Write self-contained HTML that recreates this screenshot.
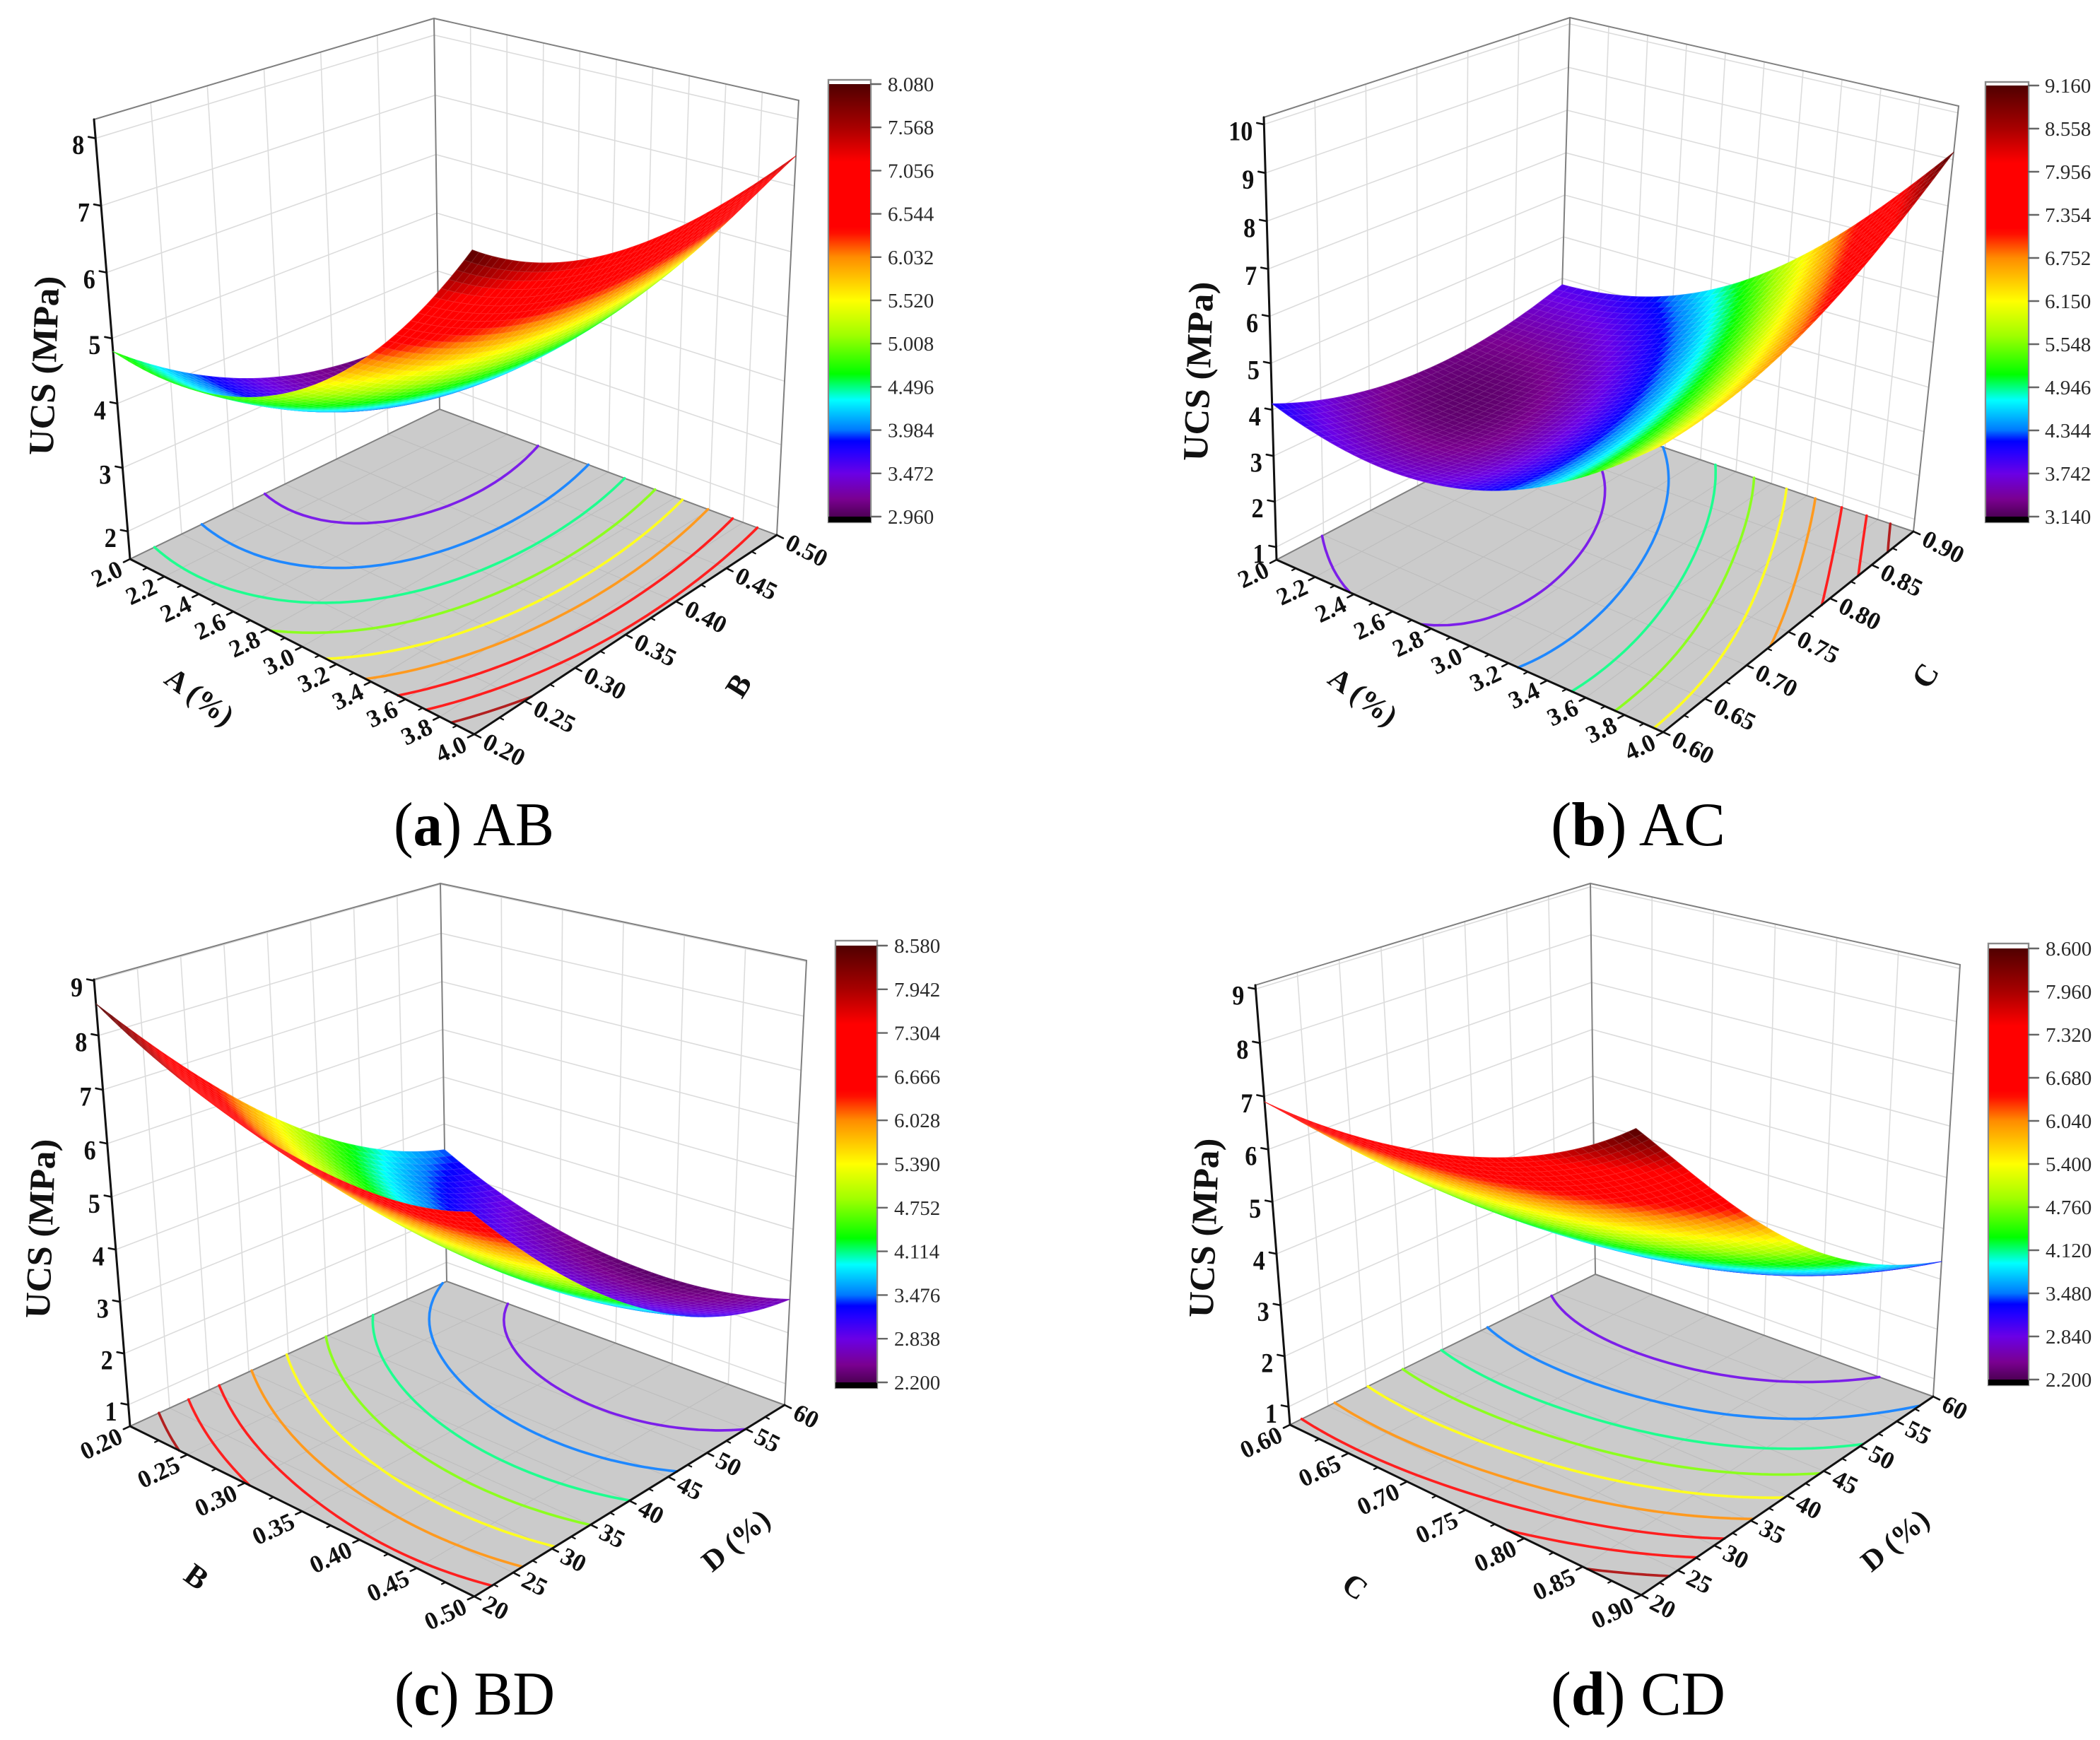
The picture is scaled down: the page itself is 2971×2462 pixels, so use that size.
<!DOCTYPE html>
<html lang="en">
<head>
<meta charset="utf-8">
<title>UCS response surfaces</title>
<style>
html,body{margin:0;padding:0;background:#fff;}
svg{display:block;}
text{font-family:"Liberation Serif",serif;}
</style>
</head>
<body>
<svg id="root" xmlns="http://www.w3.org/2000/svg" width="2971" height="2462" viewBox="0 0 2971 2462">
  <rect width="2971" height="2462" fill="#fff"/>
  <defs id="defs"></defs>
  <g id="panel-a"></g>
  <g id="panel-b"></g>
  <g id="panel-c"></g>
  <g id="panel-d"></g>

  <g font-weight="bold" fill="#111">
    <text transform="translate(79,518) rotate(-88)" text-anchor="middle" font-size="50" textLength="254" lengthAdjust="spacingAndGlyphs">UCS (MPa)</text>
    <text transform="translate(274,997) rotate(36)" text-anchor="middle" font-size="42">A (%)</text>
    <text transform="translate(1045,970) rotate(-58)" text-anchor="middle" dominant-baseline="central" font-size="44">B</text>

    <text transform="translate(1712,526) rotate(-88)" text-anchor="middle" font-size="50" textLength="254" lengthAdjust="spacingAndGlyphs">UCS (MPa)</text>
    <text transform="translate(1920,997) rotate(36)" text-anchor="middle" font-size="42">A (%)</text>
    <text transform="translate(2724,956) rotate(-58)" text-anchor="middle" dominant-baseline="central" font-size="44">C</text>

    <text transform="translate(74,1739) rotate(-88)" text-anchor="middle" font-size="50" textLength="254" lengthAdjust="spacingAndGlyphs">UCS (MPa)</text>
    <text transform="translate(278,2231) rotate(36)" text-anchor="middle" dominant-baseline="central" font-size="44">B</text>
    <text transform="translate(1050,2190) rotate(-40)" text-anchor="middle" font-size="42">D (%)</text>

    <text transform="translate(1720,1738) rotate(-88)" text-anchor="middle" font-size="50" textLength="254" lengthAdjust="spacingAndGlyphs">UCS (MPa)</text>
    <text transform="translate(1917,2245) rotate(36)" text-anchor="middle" dominant-baseline="central" font-size="44">C</text>
    <text transform="translate(2690,2190) rotate(-40)" text-anchor="middle" font-size="42">D (%)</text>
  </g>

  <g fill="#000" font-size="88">
    <text x="557" y="1196" textLength="227" lengthAdjust="spacingAndGlyphs">(<tspan font-weight="bold">a</tspan>) AB</text>
    <text x="2194" y="1196" textLength="247" lengthAdjust="spacingAndGlyphs">(<tspan font-weight="bold">b</tspan>) AC</text>
    <text x="558" y="2426" textLength="227" lengthAdjust="spacingAndGlyphs">(<tspan font-weight="bold">c</tspan>) BD</text>
    <text x="2194" y="2426" textLength="247" lengthAdjust="spacingAndGlyphs">(<tspan font-weight="bold">d</tspan>) CD</text>
  </g>
</svg>

<script>
/* ---------- chart data ---------- */
/* Surface samples: each row is one v-axis value, each column one u-axis value. */
const abSurface = [
  [4.80, 4.74, 5.27, 6.38, 8.08],
  [3.93, 3.96, 4.57, 5.77, 7.45],
  [3.35, 3.46, 4.17, 5.46, 7.18],
  [3.07, 3.27, 4.06, 5.44, 7.20],
  [3.08, 3.37, 4.25, 5.72, 7.45]
];
const acSurface = [
  [4.13, 3.70, 3.96, 4.88, 6.30],
  [3.58, 3.35, 3.80, 4.92, 6.45],
  [3.33, 3.29, 3.95, 5.26, 6.93],
  [3.41, 3.57, 4.42, 5.93, 7.82],
  [3.85, 4.21, 5.25, 6.96, 9.16]
];
const bdSurface = [
  [8.58, 7.57, 7.00, 6.80, 7.05],
  [6.87, 5.92, 5.40, 5.25, 5.45],
  [5.36, 4.47, 3.99, 3.88, 4.12],
  [4.18, 3.34, 2.93, 2.87, 3.15],
  [3.45, 2.67, 2.32, 2.32, 2.65]
];
const cdSurface = [
  [6.90, 6.85, 7.10, 7.65, 8.60],
  [5.43, 5.32, 5.52, 6.01, 6.91],
  [4.10, 3.94, 4.08, 4.51, 5.35],
  [3.13, 2.91, 2.99, 3.37, 4.16],
  [2.55, 2.28, 2.30, 2.63, 3.35]
];

const abTicksU = ["2.0","2.2","2.4","2.6","2.8","3.0","3.2","3.4","3.6","3.8","4.0"];
const abTicksV = ["0.20","0.25","0.30","0.35","0.40","0.45","0.50"];
const abTicksZ = ["2","3","4","5","6","7","8"];
const abColorTicks = ["2.960","3.472","3.984","4.496","5.008","5.520","6.032","6.544","7.056","7.568","8.080"];

const acTicksU = ["2.0","2.2","2.4","2.6","2.8","3.0","3.2","3.4","3.6","3.8","4.0"];
const acTicksV = ["0.60","0.65","0.70","0.75","0.80","0.85","0.90"];
const acTicksZ = ["1","2","3","4","5","6","7","8","9","10"];
const acColorTicks = ["3.140","3.742","4.344","4.946","5.548","6.150","6.752","7.354","7.956","8.558","9.160"];

const bdTicksU = ["0.20","0.25","0.30","0.35","0.40","0.45","0.50"];
const bdTicksV = ["20","25","30","35","40","45","50","55","60"];
const bdTicksZ = ["1","2","3","4","5","6","7","8","9"];
const bdColorTicks = ["2.200","2.838","3.476","4.114","4.752","5.390","6.028","6.666","7.304","7.942","8.580"];

const cdTicksU = ["0.60","0.65","0.70","0.75","0.80","0.85","0.90"];
const cdTicksV = ["20","25","30","35","40","45","50","55","60"];
const cdTicksZ = ["1","2","3","4","5","6","7","8","9"];
const cdColorTicks = ["2.200","2.840","3.480","4.120","4.760","5.400","6.040","6.680","7.320","7.960","8.600"];

const colormapFractions = [0, .04, .1, .15, .175, .2, .27, .3, .33, .42, .5, .6, .655, .67, .82, .9, 1];
const colormapColors = ["#4d0055","#7a0090","#6a00e6","#2400ff","#0000ff","#0078ff","#00ffff","#00ff80","#00ff00","#a0ff00","#ffff00","#ff8c00","#ff1000","#ff0000","#ff0000","#a80000","#500000"];

/* ---------- layout (box geometry only) ---------- */
const layouts = [
  {id:"panel-a", key:"ab", surface:abSurface, ticksU:abTicksU, ticksV:abTicksV, ticksZ:abTicksZ, colorTicks:abColorTicks,
   zBox:[1.561,8.277],
   L:[184,791], F:[671,1039], R:[1099,757], K:[622,579],
   TL:[133,169], TF:[668,332], TR:[1130,142], TK:[614,26],
   bar:{x:1172,w:60,boxTop:113,top:119,bottom:731,boxBottom:739,labelX:1256}},
  {id:"panel-b", key:"ac", surface:acSurface, ticksU:acTicksU, ticksV:acTicksV, ticksZ:acTicksZ, colorTicks:acColorTicks,
   zBox:[0.719,10.145],
   L:[1806,792], F:[2353,1036], R:[2707,752], K:[2205,583],
   TL:[1788,166], TF:[2352,338], TR:[2771,150], TK:[2221,25],
   bar:{x:2809,w:61,boxTop:116,top:121,bottom:731,boxBottom:739,labelX:2893}},
  {id:"panel-c", key:"bd", surface:bdSurface, ticksU:bdTicksU, ticksV:bdTicksV, ticksZ:bdTicksZ, colorTicks:bdColorTicks,
   zBox:[0.58,9.02],
   L:[184,2018], F:[671,2259], R:[1110,1988], K:[632,1813],
   TL:[133,1386], TF:[664,1542], TR:[1141,1359], TK:[623,1250],
   bar:{x:1182,w:59,boxTop:1331,top:1338,bottom:1956,boxBottom:1964,labelX:1265}},
  {id:"panel-d", key:"cd", surface:cdSurface, ticksU:cdTicksU, ticksV:cdTicksV, ticksZ:cdTicksZ, colorTicks:cdColorTicks,
   zBox:[0.64,9.07],
   L:[1825,2016], F:[2322,2257], R:[2735,1976], K:[2257,1803],
   TL:[1776,1394], TF:[2314,1556], TR:[2773,1365], TK:[2250,1250],
   bar:{x:2813,w:57,boxTop:1335,top:1342,bottom:1952,boxBottom:1960,labelX:2894}}
];

const SVGNS = "http://www.w3.org/2000/svg";
const MESH = 48;
const NODES = [0, .25, .5, .75, 1];

function mk(tag, attrs, parent) {
  const el = document.createElementNS(SVGNS, tag);
  for (const k in attrs) el.setAttribute(k, attrs[k]);
  parent.appendChild(el);
  return el;
}
function hexRgb(h) {
  return [parseInt(h.slice(1,3),16), parseInt(h.slice(3,5),16), parseInt(h.slice(5,7),16)];
}
function cmapRgb(t) {
  t = Math.max(0, Math.min(1, t));
  for (let i = 1; i < colormapFractions.length; i++) {
    if (t <= colormapFractions[i]) {
      const a = colormapFractions[i-1], b = colormapFractions[i];
      const f = (t-a)/(b-a), p = hexRgb(colormapColors[i-1]), q = hexRgb(colormapColors[i]);
      return [p[0]+(q[0]-p[0])*f, p[1]+(q[1]-p[1])*f, p[2]+(q[2]-p[2])*f];
    }
  }
  return hexRgb(colormapColors[colormapColors.length-1]);
}
function rgbStr(c, white) {
  const w = white || 0;
  return "rgb(" + c.map(x => Math.round(x+(255-x)*w)).join(",") + ")";
}
function lagrange(x) {
  return NODES.map((n, i) => {
    let r = 1;
    NODES.forEach((m, j) => { if (j !== i) r *= (x-m)/(n-m); });
    return r;
  });
}
function fmt(p) { return p[0].toFixed(1) + "," + p[1].toFixed(1); }
function bilin(a, b, c, d, u, v) {
  return [
    (1-u)*(1-v)*a[0] + u*(1-v)*b[0] + u*v*c[0] + (1-u)*v*d[0],
    (1-u)*(1-v)*a[1] + u*(1-v)*b[1] + u*v*c[1] + (1-u)*v*d[1]
  ];
}

function drawPanel(P) {
  const g = document.getElementById(P.id);
  const floorAt = (u, v) => bilin(P.L, P.F, P.R, P.K, u, v);
  const topAt = (u, v) => bilin(P.TL, P.TF, P.TR, P.TK, u, v);
  const zScale = z => {
    const t = (z - P.zBox[0]) / (P.zBox[1] - P.zBox[0]);
    return 0.96*t / (1 - 0.04*t);
  };
  const project = (u, v, z) => {
    const s = zScale(z), f = floorAt(u, v), c = topAt(u, v);
    return [f[0]+(c[0]-f[0])*s, f[1]+(c[1]-f[1])*s];
  };
  const numsU = P.ticksU.map(Number), numsV = P.ticksV.map(Number), numsZ = P.ticksZ.map(Number);
  const uScale = x => (x-numsU[0]) / (numsU[numsU.length-1]-numsU[0]);
  const vScale = x => (x-numsV[0]) / (numsV[numsV.length-1]-numsV[0]);
  const line = (a, b, stroke, width, parent) =>
    mk("line", {x1:a[0].toFixed(1), y1:a[1].toFixed(1), x2:b[0].toFixed(1), y2:b[1].toFixed(1), stroke:stroke, "stroke-width":width, "stroke-linecap":"round"}, parent);
  const zVals = P.colorTicks.map(Number);
  const cMin = zVals[0], cMax = zVals[zVals.length-1];
  const colorOf = z => cmapRgb((z-cMin)/(cMax-cMin));

  /* walls with grid */
  const walls = mk("g", {}, g);
  
  
  numsZ.forEach(z => {
    const a = line(project(0,0,z), project(0,1,z), "#dcdcdc", 1.6, walls);
    
    
    const b = line(project(0,1,z), project(1,1,z), "#dcdcdc", 1.6, walls);
    
    
  });
  numsV.forEach(x => {
    const v = vScale(x);
    const a = line(floorAt(0,v), topAt(0,v), "#dcdcdc", 1.6, walls);
    
    
  });
  numsU.forEach(x => {
    const u = uScale(x);
    const a = line(floorAt(u,1), topAt(u,1), "#dcdcdc", 1.6, walls);
    
    
  });

  /* floor */
  const floor = mk("polygon", {points:[P.L,P.F,P.R,P.K].map(fmt).join(" "), fill:"#cbcbcb"}, g);
  
  
  const floorGrid = mk("g", {}, g);
  
  
  numsU.forEach(x => {
    const u = uScale(x);
    const a = line(floorAt(u,0), floorAt(u,1), "#bdbdbd", 1.1, floorGrid);
    
    
  });
  numsV.forEach(x => {
    const v = vScale(x);
    const a = line(floorAt(0,v), floorAt(1,v), "#bdbdbd", 1.1, floorGrid);
    
    
  });

  /* thin frame */
  const frame = mk("g", {}, g);
  
  
  [[P.TL,P.TK],[P.TK,P.TR],[P.TR,P.R],[P.TK,P.K],[P.L,P.K],[P.K,P.R]].forEach(s => {
    const a = line(s[0], s[1], "#808080", 2, frame);
    
    
  });

  /* dense evaluation of the sampled surface */
  const Z = [];
  for (let i = 0; i <= MESH; i++) {
    const lu = lagrange(i/MESH);
    Z.push([]);
    for (let j = 0; j <= MESH; j++) {
      const lv = lagrange(j/MESH);
      let s = 0;
      for (let r = 0; r < 5; r++) for (let c = 0; c < 5; c++) s += lv[r]*lu[c]*P.surface[r][c];
      Z[i].push(s);
    }
  }

  /* contours on the floor */
  const contours = mk("g", {fill:"none", "stroke-linecap":"round", "stroke-linejoin":"round"}, g);
  
  
  zVals.slice(1, -1).forEach(level => {
    let d = "";
    for (let i = 0; i < MESH; i++) for (let j = 0; j < MESH; j++) {
      const c = [[i,j],[i+1,j],[i+1,j+1],[i,j+1]];
      const pts = [];
      for (let k = 0; k < 4; k++) {
        const a = c[k], b = c[(k+1)%4];
        const za = Z[a[0]][a[1]], zb = Z[b[0]][b[1]];
        if ((za < level) !== (zb < level)) {
          const f = (level-za)/(zb-za);
          pts.push(floorAt((a[0]+(b[0]-a[0])*f)/MESH, (a[1]+(b[1]-a[1])*f)/MESH));
        }
      }
      if (pts.length >= 2) d += "M" + fmt(pts[0]) + "L" + fmt(pts[1]);
      if (pts.length === 4) d += "M" + fmt(pts[2]) + "L" + fmt(pts[3]);
    }
    const path = mk("path", {d:d, stroke:rgbStr(colorOf(level), .12), "stroke-width":3.6}, contours);
    
    
  });

  /* axes */
  const axes = mk("g", {}, g);
  
  
  const zAxis = line(P.L, P.TL, "#111", 3, axes);
  
  
  const uAxis = line(P.L, P.F, "#111", 3, axes);
  
  
  const vAxis = line(P.F, P.R, "#111", 3, axes);
  
  

  const unit = (a, b) => { const dx=a[0]-b[0], dy=a[1]-b[1], n=Math.hypot(dx,dy); return [dx/n,dy/n]; };
  const dirU = unit(P.L, P.K);
  const dirV = unit(P.F, P.L);

  numsU.forEach((x, idx) => {
    const u = uScale(x), p = floorAt(u, 0);
    const t = line(p, [p[0]+dirU[0]*10, p[1]+dirU[1]*10], "#111", 2.6, axes);
    
    
    if (idx < numsU.length-1) {
      const um = (u + uScale(numsU[idx+1]))/2, pm = floorAt(um, 0);
      const tm = line(pm, [pm[0]+dirU[0]*6, pm[1]+dirU[1]*6], "#111", 2.2, axes);
      
      
    }
    const lab = mk("text", {transform:"translate("+(p[0]-13).toFixed(1)+","+(p[1]+12).toFixed(1)+") rotate(-25)", "text-anchor":"end", "dominant-baseline":"central", "font-size":35, "font-weight":"bold", fill:"#111"}, axes);
    lab.textContent = P.ticksU[idx];
    
    
  });
  numsV.forEach((x, idx) => {
    const v = vScale(x), p = floorAt(1, v);
    const t = line(p, [p[0]+dirV[0]*10, p[1]+dirV[1]*10], "#111", 2.6, axes);
    
    
    if (idx < numsV.length-1) {
      const vm = (v + vScale(numsV[idx+1]))/2, pm = floorAt(1, vm);
      const tm = line(pm, [pm[0]+dirV[0]*6, pm[1]+dirV[1]*6], "#111", 2.2, axes);
      
      
    }
    const lab = mk("text", {transform:"translate("+(p[0]+15).toFixed(1)+","+(p[1]+8).toFixed(1)+") rotate(27)", "text-anchor":"start", "dominant-baseline":"central", "font-size":35, "font-weight":"bold", fill:"#111"}, axes);
    lab.textContent = P.ticksV[idx];
    
    
  });
  numsZ.forEach((z, idx) => {
    const p = project(0, 0, z);
    const t = line(p, [p[0]-10, p[1]-2], "#111", 2.6, axes);
    
    
    const lab = mk("text", {transform:"translate("+(p[0]-16).toFixed(1)+","+(p[1]+9).toFixed(1)+") scale(.95,1.08)", "text-anchor":"end", "dominant-baseline":"central", "font-size":36, "font-weight":"bold", fill:"#111"}, axes);
    lab.textContent = P.ticksZ[idx];
    
    
  });

  /* surface, painted back to front (camera sits beyond the front corner) */
  const surf = mk("g", {"stroke-width":0.9, "stroke-linejoin":"round"}, g);
  
  
  for (let i = 0; i < MESH; i++) {
    for (let j = MESH-1; j >= 0; j--) {
      const zs = [Z[i][j], Z[i+1][j], Z[i+1][j+1], Z[i][j+1]];
      const a = project(i/MESH, j/MESH, zs[0]);
      const b = project((i+1)/MESH, j/MESH, zs[1]);
      const c = project((i+1)/MESH, (j+1)/MESH, zs[2]);
      const d = project(i/MESH, (j+1)/MESH, zs[3]);
      const col = colorOf((zs[0]+zs[1]+zs[2]+zs[3])/4);
      const cell = mk("polygon", {points:[a,b,c,d].map(fmt).join(" "), fill:rgbStr(col), stroke:rgbStr(col, .14)}, surf);
      
      
    }
  }

  /* colour bar */
  const B = P.bar;
  const defs = document.getElementById("defs");
  const gradId = "cbar-" + P.key;
  const grad = mk("linearGradient", {id:gradId, x1:0, y1:1, x2:0, y2:0}, defs);
  colormapFractions.forEach((f, i) => {
    mk("stop", {offset:f, "stop-color":colormapColors[i]}, grad);
  });
  const bar = mk("g", {}, g);
  
  
  const box = mk("rect", {x:B.x, y:B.boxTop, width:B.w, height:B.boxBottom-B.boxTop, fill:"#fff", stroke:"#8a8a8a", "stroke-width":2.4}, bar);
  
  
  const ramp = mk("rect", {x:B.x+1, y:B.top, width:B.w-2, height:B.bottom-B.top, fill:"url(#"+gradId+")"}, bar);
  
  
  const under = mk("rect", {x:B.x, y:B.bottom, width:B.w, height:B.boxBottom-B.bottom, fill:"#000"}, bar);
  
  
  const yOf = z => B.bottom + (B.top-B.bottom)*(z-cMin)/(cMax-cMin);
  zVals.forEach((z, idx) => {
    const y = yOf(z);
    const t = line([B.x+B.w, y], [B.x+B.w+14, y], "#666", 2.4, bar);
    
    
    const lab = mk("text", {x:B.labelX, y:y+1, "dominant-baseline":"central", "font-size":29, fill:"#2a2a2a"}, bar);
    lab.textContent = P.colorTicks[idx];
    
    
  });
}

layouts.forEach(drawPanel);
</script>
</body>
</html>
